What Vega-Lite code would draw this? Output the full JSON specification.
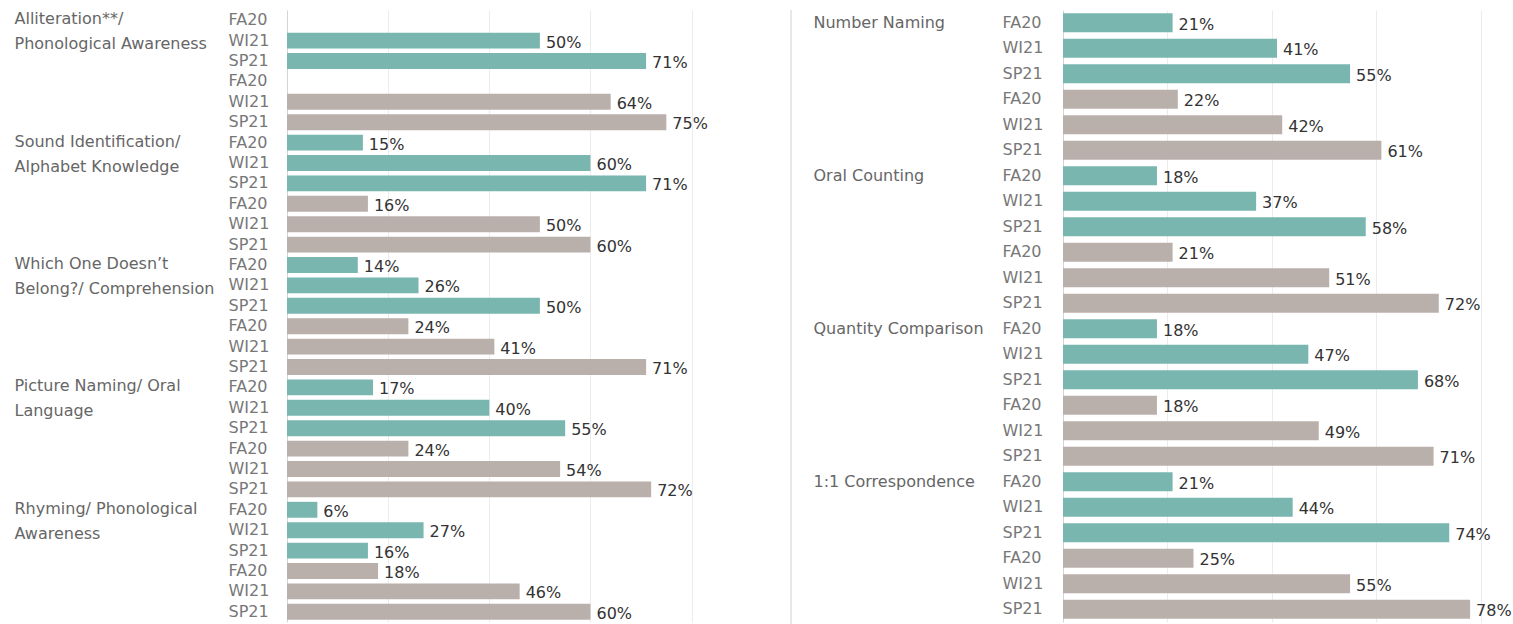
{
  "$schema": "https://vega.github.io/schema/vega-lite/v6.json",
  "background": "white",
  "padding": {"left": 14, "top": 9, "right": 0, "bottom": 0},
  "config": {
    "font": "DejaVu Sans",
    "view": {"stroke": null},
    "concat": {"spacing": 21}
  },
  "datasets": {
    "left": [
      {"cat": "Alliteration**/|Phonological Awareness", "grp": "T", "k": "1 T WI21", "v": 0.50},
      {"cat": "Alliteration**/|Phonological Awareness", "grp": "T", "k": "1 T SP21", "v": 0.71},
      {"cat": "Alliteration**/|Phonological Awareness", "grp": "G", "k": "1 G WI21", "v": 0.64},
      {"cat": "Alliteration**/|Phonological Awareness", "grp": "G", "k": "1 G SP21", "v": 0.75},
      {"cat": "Sound Identification/|Alphabet Knowledge", "grp": "T", "k": "2 T FA20", "v": 0.15},
      {"cat": "Sound Identification/|Alphabet Knowledge", "grp": "T", "k": "2 T WI21", "v": 0.60},
      {"cat": "Sound Identification/|Alphabet Knowledge", "grp": "T", "k": "2 T SP21", "v": 0.71},
      {"cat": "Sound Identification/|Alphabet Knowledge", "grp": "G", "k": "2 G FA20", "v": 0.16},
      {"cat": "Sound Identification/|Alphabet Knowledge", "grp": "G", "k": "2 G WI21", "v": 0.50},
      {"cat": "Sound Identification/|Alphabet Knowledge", "grp": "G", "k": "2 G SP21", "v": 0.60},
      {"cat": "Which One Doesn’t|Belong?/ Comprehension", "grp": "T", "k": "3 T FA20", "v": 0.14},
      {"cat": "Which One Doesn’t|Belong?/ Comprehension", "grp": "T", "k": "3 T WI21", "v": 0.26},
      {"cat": "Which One Doesn’t|Belong?/ Comprehension", "grp": "T", "k": "3 T SP21", "v": 0.50},
      {"cat": "Which One Doesn’t|Belong?/ Comprehension", "grp": "G", "k": "3 G FA20", "v": 0.24},
      {"cat": "Which One Doesn’t|Belong?/ Comprehension", "grp": "G", "k": "3 G WI21", "v": 0.41},
      {"cat": "Which One Doesn’t|Belong?/ Comprehension", "grp": "G", "k": "3 G SP21", "v": 0.71},
      {"cat": "Picture Naming/ Oral|Language", "grp": "T", "k": "4 T FA20", "v": 0.17},
      {"cat": "Picture Naming/ Oral|Language", "grp": "T", "k": "4 T WI21", "v": 0.40},
      {"cat": "Picture Naming/ Oral|Language", "grp": "T", "k": "4 T SP21", "v": 0.55},
      {"cat": "Picture Naming/ Oral|Language", "grp": "G", "k": "4 G FA20", "v": 0.24},
      {"cat": "Picture Naming/ Oral|Language", "grp": "G", "k": "4 G WI21", "v": 0.54},
      {"cat": "Picture Naming/ Oral|Language", "grp": "G", "k": "4 G SP21", "v": 0.72},
      {"cat": "Rhyming/ Phonological|Awareness", "grp": "T", "k": "5 T FA20", "v": 0.06},
      {"cat": "Rhyming/ Phonological|Awareness", "grp": "T", "k": "5 T WI21", "v": 0.27},
      {"cat": "Rhyming/ Phonological|Awareness", "grp": "T", "k": "5 T SP21", "v": 0.16},
      {"cat": "Rhyming/ Phonological|Awareness", "grp": "G", "k": "5 G FA20", "v": 0.18},
      {"cat": "Rhyming/ Phonological|Awareness", "grp": "G", "k": "5 G WI21", "v": 0.46},
      {"cat": "Rhyming/ Phonological|Awareness", "grp": "G", "k": "5 G SP21", "v": 0.60}
    ],
    "right": [
      {"cat": "Number Naming", "grp": "T", "k": "1 T FA20", "v": 0.21},
      {"cat": "Number Naming", "grp": "T", "k": "1 T WI21", "v": 0.41},
      {"cat": "Number Naming", "grp": "T", "k": "1 T SP21", "v": 0.55},
      {"cat": "Number Naming", "grp": "G", "k": "1 G FA20", "v": 0.22},
      {"cat": "Number Naming", "grp": "G", "k": "1 G WI21", "v": 0.42},
      {"cat": "Number Naming", "grp": "G", "k": "1 G SP21", "v": 0.61},
      {"cat": "Oral Counting", "grp": "T", "k": "2 T FA20", "v": 0.18},
      {"cat": "Oral Counting", "grp": "T", "k": "2 T WI21", "v": 0.37},
      {"cat": "Oral Counting", "grp": "T", "k": "2 T SP21", "v": 0.58},
      {"cat": "Oral Counting", "grp": "G", "k": "2 G FA20", "v": 0.21},
      {"cat": "Oral Counting", "grp": "G", "k": "2 G WI21", "v": 0.51},
      {"cat": "Oral Counting", "grp": "G", "k": "2 G SP21", "v": 0.72},
      {"cat": "Quantity Comparison", "grp": "T", "k": "3 T FA20", "v": 0.18},
      {"cat": "Quantity Comparison", "grp": "T", "k": "3 T WI21", "v": 0.47},
      {"cat": "Quantity Comparison", "grp": "T", "k": "3 T SP21", "v": 0.68},
      {"cat": "Quantity Comparison", "grp": "G", "k": "3 G FA20", "v": 0.18},
      {"cat": "Quantity Comparison", "grp": "G", "k": "3 G WI21", "v": 0.49},
      {"cat": "Quantity Comparison", "grp": "G", "k": "3 G SP21", "v": 0.71},
      {"cat": "1:1 Correspondence", "grp": "T", "k": "4 T FA20", "v": 0.21},
      {"cat": "1:1 Correspondence", "grp": "T", "k": "4 T WI21", "v": 0.44},
      {"cat": "1:1 Correspondence", "grp": "T", "k": "4 T SP21", "v": 0.74},
      {"cat": "1:1 Correspondence", "grp": "G", "k": "4 G FA20", "v": 0.25},
      {"cat": "1:1 Correspondence", "grp": "G", "k": "4 G WI21", "v": 0.55},
      {"cat": "1:1 Correspondence", "grp": "G", "k": "4 G SP21", "v": 0.78}
    ],
    "sep": [{"s": 0}]
  },
  "hconcat": [
    {
      "data": {"name": "left"},
      "width": 482,
      "height": 612,
      "layer": [
        {
          "mark": {"type": "bar", "opacity": 0},
          "encoding": {
            "y": {"field": "cat", "type": "nominal",
              "scale": {"domain": ["Alliteration**/|Phonological Awareness", "Sound Identification/|Alphabet Knowledge", "Which One Doesn’t|Belong?/ Comprehension", "Picture Naming/ Oral|Language", "Rhyming/ Phonological|Awareness"], "paddingInner": 0, "paddingOuter": 0},
              "axis": {"orient": "left", "title": null, "domain": false, "ticks": false, "grid": false, "labelAlign": "left", "labelBaseline": "top", "labelPadding": 273, "labelOffset": -60, "labelExpr": "split(datum.value, '|')", "labelLineHeight": 25, "labelFontSize": 16, "labelColor": "#666666", "labelLimit": 320, "labelOverlap": false}}
          }
        },
        {
          "encoding": {
            "y": {"field": "k", "type": "nominal",
              "scale": {"domain": ["1 T FA20", "1 T WI21", "1 T SP21", "1 G FA20", "1 G WI21", "1 G SP21", "2 T FA20", "2 T WI21", "2 T SP21", "2 G FA20", "2 G WI21", "2 G SP21", "3 T FA20", "3 T WI21", "3 T SP21", "3 G FA20", "3 G WI21", "3 G SP21", "4 T FA20", "4 T WI21", "4 T SP21", "4 G FA20", "4 G WI21", "4 G SP21", "5 T FA20", "5 T WI21", "5 T SP21", "5 G FA20", "5 G WI21", "5 G SP21"], "paddingInner": 0.22, "paddingOuter": 0.11},
              "axis": {"orient": "left", "title": null, "labelExpr": "substring(datum.value, 4)", "ticks": false, "domain": true, "domainColor": "#d4d4d4", "grid": false, "labelAlign": "left", "labelPadding": 59, "labelFontSize": 16, "labelColor": "#777777", "labelOverlap": false}}
          },
          "layer": [
            {
              "mark": {"type": "bar"},
              "encoding": {
                "x": {"field": "v", "type": "quantitative", "scale": {"domain": [0, 0.953], "nice": false},
                  "axis": {"labels": false, "ticks": false, "domain": false, "title": null, "grid": true, "gridColor": "#ececec", "values": [0.2, 0.4, 0.6, 0.8]}},
                "color": {"field": "grp", "type": "nominal", "scale": {"domain": ["T", "G"], "range": ["#79b6b0", "#bab0ab"]}, "legend": null}
              }
            },
            {
              "mark": {"type": "text", "align": "left", "dx": 6, "dy": 2, "fontSize": 16, "color": "#333333"},
              "encoding": {
                "x": {"field": "v", "type": "quantitative"},
                "text": {"field": "v", "type": "quantitative", "format": ".0%"}
              }
            }
          ]
        }
      ],
      "resolve": {"scale": {"y": "independent"}, "axis": {"y": "independent"}}
    },
    {
      "data": {"name": "sep"},
      "width": 1,
      "height": 615,
      "mark": {"type": "rule", "color": "#d0d0d0"},
      "encoding": {"x": {"field": "s", "type": "quantitative", "scale": {"domain": [0, 1]}, "axis": null}}
    },
    {
      "data": {"name": "right"},
      "width": 440,
      "height": 612,
      "layer": [
        {
          "mark": {"type": "bar", "opacity": 0},
          "encoding": {
            "y": {"field": "cat", "type": "nominal",
              "scale": {"domain": ["Number Naming", "Oral Counting", "Quantity Comparison", "1:1 Correspondence"], "paddingInner": 0, "paddingOuter": 0},
              "axis": {"orient": "left", "title": null, "domain": false, "ticks": false, "grid": false, "labelAlign": "left", "labelBaseline": "top", "labelPadding": 250, "labelOffset": -72, "labelFontSize": 16, "labelColor": "#666666", "labelLimit": 320, "labelOverlap": false}}
          }
        },
        {
          "encoding": {
            "y": {"field": "k", "type": "nominal",
              "scale": {"domain": ["1 T FA20", "1 T WI21", "1 T SP21", "1 G FA20", "1 G WI21", "1 G SP21", "2 T FA20", "2 T WI21", "2 T SP21", "2 G FA20", "2 G WI21", "2 G SP21", "3 T FA20", "3 T WI21", "3 T SP21", "3 G FA20", "3 G WI21", "3 G SP21", "4 T FA20", "4 T WI21", "4 T SP21", "4 G FA20", "4 G WI21", "4 G SP21"], "paddingInner": 0.26, "paddingOuter": 0.13},
              "axis": {"orient": "left", "title": null, "labelExpr": "substring(datum.value, 4)", "ticks": false, "domain": true, "domainColor": "#d4d4d4", "grid": false, "labelAlign": "left", "labelPadding": 61, "labelFontSize": 16, "labelColor": "#777777", "labelOverlap": false}}
          },
          "layer": [
            {
              "mark": {"type": "bar"},
              "encoding": {
                "x": {"field": "v", "type": "quantitative", "scale": {"domain": [0, 0.843], "nice": false},
                  "axis": {"labels": false, "ticks": false, "domain": false, "title": null, "grid": true, "gridColor": "#ececec", "values": [0.2, 0.4, 0.6, 0.8]}},
                "color": {"field": "grp", "type": "nominal", "scale": {"domain": ["T", "G"], "range": ["#79b6b0", "#bab0ab"]}, "legend": null}
              }
            },
            {
              "mark": {"type": "text", "align": "left", "dx": 6, "dy": 2, "fontSize": 16, "color": "#333333"},
              "encoding": {
                "x": {"field": "v", "type": "quantitative"},
                "text": {"field": "v", "type": "quantitative", "format": ".0%"}
              }
            }
          ]
        }
      ],
      "resolve": {"scale": {"y": "independent"}, "axis": {"y": "independent"}}
    }
  ]
}
